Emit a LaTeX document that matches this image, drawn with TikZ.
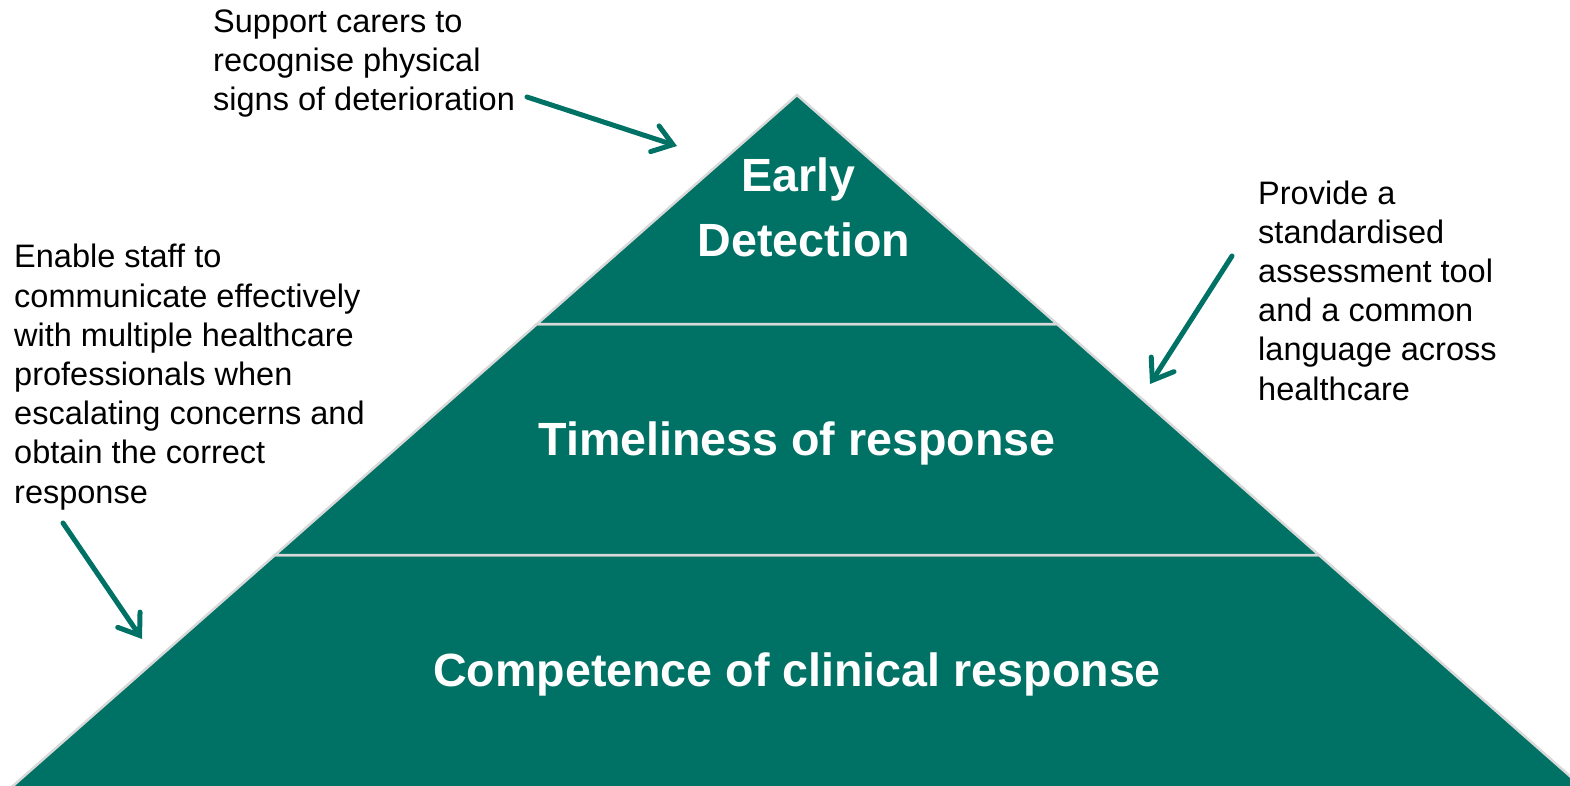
\documentclass[tikz,border=0pt]{standalone}
\usepackage{fontspec}
\setmainfont{Liberation Sans}
\usetikzlibrary{arrows.meta}
\definecolor{pyrgreen}{HTML}{007265}
\definecolor{edgegray}{HTML}{D9D9D9}
\begin{document}
\begin{tikzpicture}[x=1pt,y=-1pt,
  layer/.style={fill=pyrgreen, draw=edgegray, line width=2.5pt, line join=miter},
  % multi-line nodes: the base anchor sits on the last line
  note/.style={anchor=base west, inner sep=0pt, align=left,
    font=\fontsize{32.5}{39.2}\selectfont},
  tier/.style={anchor=base, inner sep=0pt, align=center, text=white,
    font=\fontsize{46.6}{66}\selectfont\bfseries},
  pointer/.style={draw=pyrgreen, line width=5pt, line cap=round,
    -{Straight Barb[length=19pt,width=27pt,line cap=round]}}]

\useasboundingbox (0,0) rectangle (1570,786);
\clip (0,0) rectangle (1570,786);

% pyramid corners
\coordinate (apex) at (797,95);
\coordinate (l1) at (537,324);
\coordinate (r1) at (1057,324);
\coordinate (l2) at (275,555);
\coordinate (r2) at (1319,555);
\coordinate (l3) at (-3,800);
\coordinate (r3) at (1597,800);

% three tiers
\draw[layer] (l2) -- (r2) -- (r3) -- (l3) -- cycle;
\draw[layer] (l1) -- (r1) -- (r2) -- (l2) -- cycle;
\draw[layer] (apex) -- (r1) -- (l1) -- cycle;

% tier labels
\node[tier] (early) at (798,257) {Early\\\hspace*{12pt}Detection};
\node[tier] (timely) at (797,455) {Timeliness of response};
\node[tier] (compet) at (797,686) {Competence of clinical response};

% side notes
\node[note] (carers) at (213,111)
  {Support carers to\\recognise physical\\signs of deterioration};
\node[note] (staff) at (14,503)
  {Enable staff to\\communicate effectively\\with multiple healthcare\\professionals when\\escalating concerns and\\obtain the correct\\response};
\node[note] (tool) at (1258,400)
  {Provide a\\standardised\\assessment tool\\and a common\\language across\\healthcare};

% pointer ends
\coordinate (carersTail) at (527,97);
\coordinate (carersTip) at (677,146);
\coordinate (staffTail) at (63,523);
\coordinate (staffTip) at (142,639);
\coordinate (toolTail) at (1232,256);
\coordinate (toolTip) at (1150,384);

\draw[pointer] (carersTail) -- (carersTip);
\draw[pointer] (staffTail) -- (staffTip);
\draw[pointer] (toolTail) -- (toolTip);
\end{tikzpicture}
\end{document}
